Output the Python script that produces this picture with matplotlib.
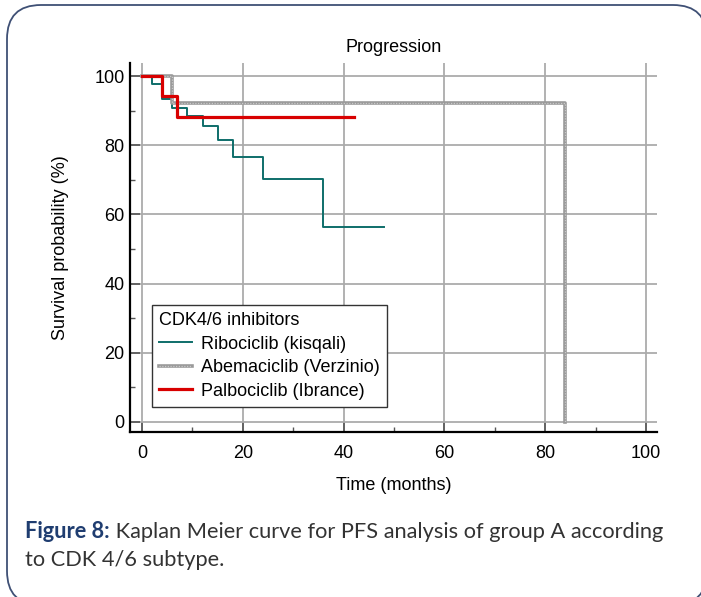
import matplotlib
matplotlib.use('Agg')
from matplotlib import pyplot as plt
from matplotlib.patches import FancyBboxPatch
from matplotlib.legend_handler import HandlerTuple

# Kaplan Meier, PFS group A, by CDK4/6 inhibitor
ribo_t = [0, 2, 4, 6, 9, 12, 15, 18, 24, 36, 48]
ribo_s = [100, 97.6, 93.3, 90.8, 88.5, 85.7, 81.4, 76.7, 70.3, 56.3, 56.3]

abema_t = [0, 6, 84]
abema_s = [100, 92.3, 0]

palbo_t = [0, 4, 7, 42]
palbo_s = [100, 94.4, 88.2, 88.2]

labels = ['Ribociclib (kisqali)', 'Abemaciclib (Verzinio)', 'Palbociclib (Ibrance)']
x_ticks = [0, 20, 40, 60, 80, 100]
y_ticks = [0, 20, 40, 60, 80, 100]

plt.rcParams['font.family'] = ['Liberation Sans', 'DejaVu Sans']

W, H = 701, 597
fig = plt.figure(figsize=(W / 100, H / 100), dpi=100)

# background frame, in pixel units
bg = fig.add_axes([0, 0, 1, 1])
bg.set_xlim(0, W)
bg.set_ylim(H, 0)
bg.axis('off')
frame = FancyBboxPatch((7, 5), 700, 600, boxstyle='round,pad=0,rounding_size=34',
                       fc='white', ec='#3f5075', lw=1.3)
bg.add_patch(frame)

ax = fig.add_axes([130 / W, 1 - 432 / H, 527 / W, 369 / H])
ax.set_facecolor('none')

h1, = ax.step(ribo_t, ribo_s, where='post', color='#0e6e6a', lw=1.4)
h2a, = ax.step(abema_t, abema_s, where='post', color='#9a9a9a', lw=2.6)
h2b, = ax.step(abema_t, abema_s, where='post', color='#c9c9c9', lw=0.9, ls=(0, (1, 1.2)))
h3, = ax.step(palbo_t, palbo_s, where='post', color='#d80000', lw=2.3)

ax.set_xlim(-2.4, 102.2)
ax.set_ylim(-2.9, 103.8)
ax.set_xticks(x_ticks)
ax.set_yticks(y_ticks)
ax.set_xticks([10, 30, 50, 70, 90], minor=True)
ax.set_yticks([10, 30, 50, 70, 90], minor=True)
ax.grid(True, color='#ababab', lw=1.3)
ax.set_axisbelow(True)

for s in ['top', 'right']:
    ax.spines[s].set_visible(False)
for s in ['left', 'bottom']:
    ax.spines[s].set_linewidth(1.6)
    ax.spines[s].set_color('black')

ax.tick_params(which='major', direction='in', length=7.5, width=1.2, color='#555555',
               labelsize=13)
ax.tick_params(which='minor', direction='in', length=3.5, width=1.0, color='#555555')
ax.tick_params(axis='y', pad=4)
ax.tick_params(axis='x', pad=9)

ax.set_title('Progression', fontsize=13, pad=8)
ax.set_xlabel('Time (months)', fontsize=13, labelpad=11)
ax.set_ylabel('Survival probability (%)', fontsize=13, labelpad=18)

leg = ax.legend([h1, (h2a, h2b), h3], labels, title='CDK4/6 inhibitors',
                handler_map={tuple: HandlerTuple(ndivide=1)},
                loc='lower left', bbox_to_anchor=(0.042, 0.068), borderaxespad=0,
                fontsize=13, title_fontsize=13, handlelength=1.8, handletextpad=0.5,
                labelspacing=0.36, fancybox=False, framealpha=1, edgecolor='#333333')
leg.get_frame().set_linewidth(1.0)
leg._legend_box.align = 'left'

# caption
cap_font = ['Lato', 'DejaVu Sans']
t1 = bg.text(25, 538, 'Figure 8:', fontsize=15.7, fontweight='bold', color='#1f3d70',
             family=cap_font, va='baseline')
bg.annotate(' Kaplan Meier curve for PFS analysis of group A according',
            xy=(1, 0), xycoords=t1, va='bottom', fontsize=15.7, color='#333333',
            family=cap_font)
bg.text(25, 566, 'to CDK 4/6 subtype.', fontsize=15.7, color='#333333',
        family=cap_font, va='baseline')

fig.savefig('out.png', dpi=100)
